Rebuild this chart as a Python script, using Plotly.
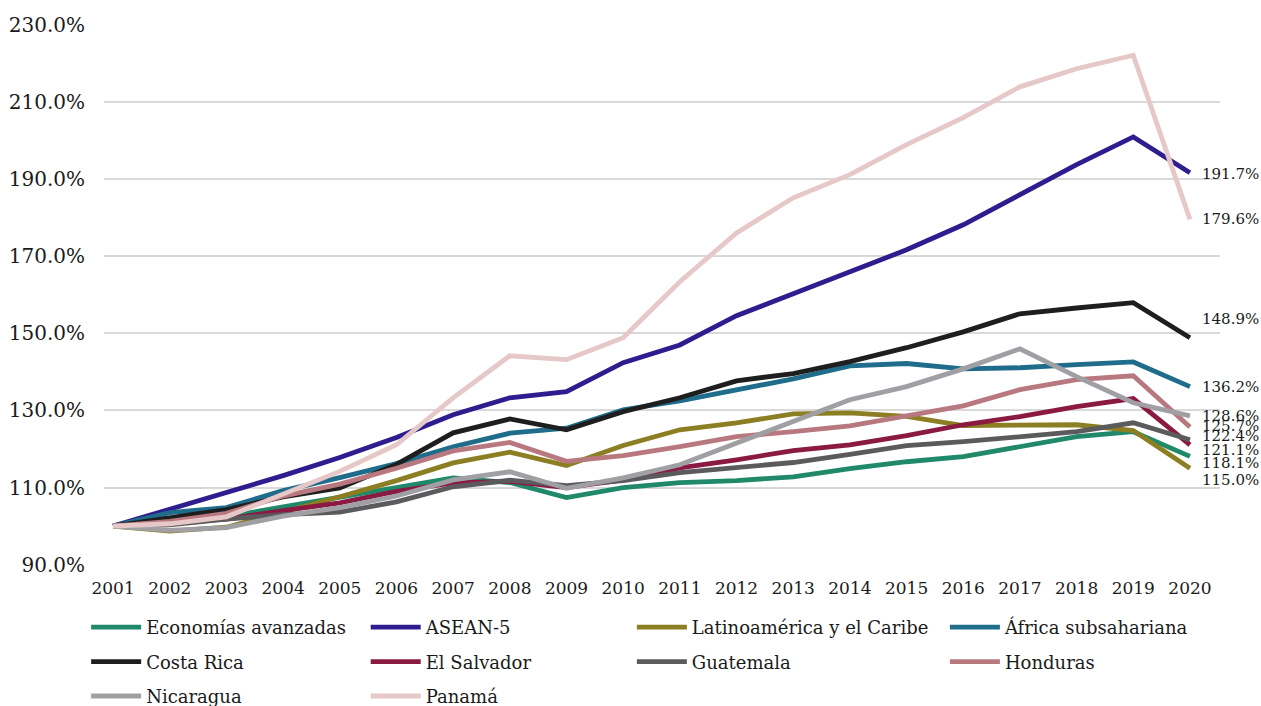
import plotly.graph_objects as go

# Índice de crecimiento acumulado (2001 = 100%)
years = list(range(2001, 2021))

series_names = [
    "Economías avanzadas", "ASEAN-5", "Latinoamérica y el Caribe", "África subsahariana",
    "Costa Rica", "El Salvador", "Guatemala", "Honduras", "Nicaragua", "Panamá",
]

economias_avanzadas = [100, 101.2, 102.4, 105.0, 107.6, 110.0, 112.5, 111.3, 107.4, 110.0,
                       111.3, 111.8, 112.8, 114.9, 116.7, 118.0, 120.6, 123.2, 124.5, 118.1]
asean_5 = [100, 104.3, 108.6, 113.1, 117.8, 123.0, 128.9, 133.3, 134.9, 142.4,
           147.0, 154.6, 160.3, 166.0, 171.7, 178.2, 186.0, 193.8, 201.0, 191.7]
latinoamerica = [100, 98.7, 99.7, 103.5, 107.6, 111.8, 116.4, 119.2, 115.7, 120.9,
                 125.0, 126.8, 129.1, 129.4, 128.5, 126.1, 126.3, 126.3, 124.8, 115.0]
africa_subsahariana = [100, 103.5, 104.8, 109.2, 112.6, 116.2, 120.6, 124.1, 125.4, 130.2,
                       132.5, 135.4, 138.2, 141.6, 142.2, 140.8, 141.1, 141.9, 142.6, 136.2]
costa_rica = [100, 102.3, 104.3, 107.6, 109.9, 116.0, 124.2, 127.8, 125.0, 129.7,
              133.3, 137.7, 139.6, 142.7, 146.3, 150.4, 155.1, 156.6, 158.0, 148.9]
el_salvador = [100, 100.8, 101.8, 104.0, 106.0, 109.0, 111.2, 111.6, 110.0, 112.0,
               115.1, 117.2, 119.6, 121.1, 123.5, 126.3, 128.4, 131.0, 133.1, 121.1]
guatemala = [100, 100.3, 101.8, 103.0, 103.6, 106.3, 110.2, 111.9, 110.5, 111.8,
             113.9, 115.2, 116.5, 118.6, 120.9, 121.9, 123.2, 124.5, 126.8, 122.4]
honduras = [100, 101.2, 103.3, 107.8, 110.9, 115.0, 119.5, 121.7, 116.8, 118.3,
            120.6, 123.2, 124.5, 126.0, 128.6, 131.2, 135.4, 138.0, 139.0, 125.7]
nicaragua = [100, 98.9, 99.6, 102.6, 104.8, 107.8, 112.0, 114.1, 109.8, 112.5,
             115.9, 121.6, 127.1, 132.8, 136.2, 140.8, 146.0, 138.8, 132.0, 128.6]
panama = [100, 100.6, 102.4, 108.3, 114.2, 121.1, 133.3, 144.2, 143.2, 148.9,
          163.4, 176.1, 185.2, 191.2, 199.0, 206.0, 214.0, 218.7, 222.2, 179.6]

series_values = [economias_avanzadas, asean_5, latinoamerica, africa_subsahariana,
                 costa_rica, el_salvador, guatemala, honduras, nicaragua, panama]

colors = ["#20896a", "#2e1d8e", "#8c7e22", "#1f6c8b", "#1e1e1e",
          "#8b1a42", "#5b5b5d", "#b8787f", "#a0a0a4", "#e5c8c7"]

# legend column for each series
legend_ids = ["legend", "legend2", "legend3", "legend4",
              "legend", "legend2", "legend3", "legend4",
              "legend", "legend2"]

# vertical pixel nudges for the end-of-line labels so they do not overlap
label_yshift = [-7, -1, -12, 0, 19, -5, 4, 1, 0, 0]

font_family = "DejaVu Serif"
text_color = "#1a1a1a"

fig = go.Figure()
for i, (name, vals) in enumerate(zip(series_names, series_values)):
    fig.add_trace(go.Scatter(
        x=years, y=vals, name=name, mode="lines",
        line=dict(color=colors[i], width=4.8),
        legend=legend_ids[i], legendgroup=name,
    ))

annotations = []
for i, vals in enumerate(series_values):
    annotations.append(dict(
        x=years[-1], y=vals[-1], xref="x", yref="y",
        text=f"{vals[-1]:.1f}%", showarrow=False,
        xanchor="left", yanchor="middle", xshift=10, yshift=label_yshift[i],
        font=dict(family=font_family, size=15, color=text_color),
    ))

legend_style = dict(
    orientation="v", yanchor="top", y=-0.0815,
    font=dict(family=font_family, size=18, color=text_color),
    bgcolor="rgba(0,0,0,0)", itemwidth=50, tracegroupgap=8,
    itemclick=False, itemdoubleclick=False,
)
col_x = [-0.016, 0.2345, 0.4730, 0.7535]

fig.update_layout(
    width=1261, height=706,
    margin=dict(l=104, r=41, t=25, b=141, autoexpand=False),
    paper_bgcolor="white", plot_bgcolor="white",
    showlegend=True,
    legend=dict(legend_style, x=col_x[0]),
    legend2=dict(legend_style, x=col_x[1]),
    legend3=dict(legend_style, x=col_x[2]),
    legend4=dict(legend_style, x=col_x[3]),
    annotations=annotations,
    xaxis=dict(
        range=[2000.84, 2020.53], tickmode="array", tickvals=years,
        ticktext=[str(y) for y in years], showgrid=False, zeroline=False,
        showline=False, ticks="outside", ticklen=8, tickcolor="rgba(0,0,0,0)",
        tickfont=dict(family=font_family, size=17, color=text_color),
    ),
    yaxis=dict(
        range=[89.9, 230.05], tickmode="linear", tick0=90, dtick=20,
        tickformat=".1f", ticksuffix="%", showgrid=True, gridcolor="#d9d9d9",
        gridwidth=1.5, zeroline=False, showline=False,
        ticks="outside", ticklen=14, tickcolor="rgba(0,0,0,0)",
        tickfont=dict(family=font_family, size=20, color=text_color),
    ),
)

fig.write_html("out.html")
